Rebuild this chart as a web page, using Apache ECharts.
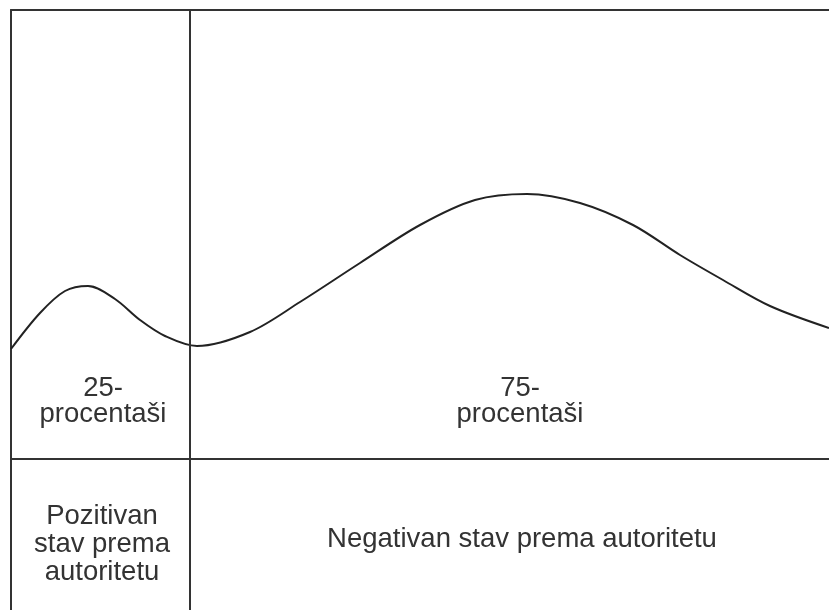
<!DOCTYPE html>
<html>
<head>
<meta charset="utf-8">
<script src="https://cdn.jsdelivr.net/npm/echarts@6/dist/echarts.min.js"></script>
<style>
  html, body { margin: 0; padding: 0; background: #ffffff; }
  #chart { width: 829px; height: 610px; }
</style>
</head>
<body>
<div id="chart"></div>
<script>
// Curve samples: horizontal position (0..818) and height above the bottom edge (0..600)
const curveX = [0, 29, 54, 77, 104, 129, 154, 186, 239, 289, 349, 409, 464, 516, 569, 622, 669, 712, 759, 818];
const curveY = [261, 297, 319, 324, 311, 290, 274, 264, 278, 308, 347, 385, 410, 416, 407, 385, 355, 330, 304, 282];

// Dividers
const dividerX = [179];
const dividerY = [151];

// Cell labels
const groupLabels = ['25-\nprocentaši', '75-\nprocentaši'];
const attitudeLabels = ['Pozitivan\nstav prema\nautoritetu', 'Negativan stav prema autoritetu'];

const chart = echarts.init(document.getElementById('chart'), null, { renderer: 'canvas' });

const lineColor = '#333333';
const textColor = '#333333';
const font = '27.5px "Liberation Sans", Arial, sans-serif';

const option = {
  animation: false,
  backgroundColor: '#ffffff',
  grid: { left: 11, top: 10, right: 0, bottom: 0, containLabel: false },
  xAxis: {
    type: 'value', min: 0, max: 818, position: 'top',
    axisLine: { show: true, onZero: false, lineStyle: { color: lineColor, width: 2 } },
    axisTick: { show: false }, axisLabel: { show: false }, splitLine: { show: false }
  },
  yAxis: {
    type: 'value', min: 0, max: 600,
    axisLine: { show: true, onZero: false, lineStyle: { color: lineColor, width: 2 } },
    axisTick: { show: false }, axisLabel: { show: false }, splitLine: { show: false }
  },
  series: [
    {
      type: 'line',
      data: curveX.map((x, i) => [x, curveY[i]]),
      smooth: 0.33,
      showSymbol: false,
      symbol: 'none',
      lineStyle: { color: '#222222', width: 2 },
      markLine: {
        silent: true,
        symbol: ['none', 'none'],
        label: { show: false },
        lineStyle: { color: lineColor, width: 2, type: 'solid' },
        data: dividerX.map(v => ({ xAxis: v })).concat(dividerY.map(v => ({ yAxis: v })))
      }
    }
  ],
  graphic: [
    { type: 'text', x: 103, y: 401, style: { text: groupLabels[0], font: font, fill: textColor, align: 'center', verticalAlign: 'middle', lineHeight: 26 } },
    { type: 'text', x: 520, y: 401, style: { text: groupLabels[1], font: font, fill: textColor, align: 'center', verticalAlign: 'middle', lineHeight: 26 } },
    { type: 'text', x: 102, y: 544, style: { text: attitudeLabels[0], font: font, fill: textColor, align: 'center', verticalAlign: 'middle', lineHeight: 28 } },
    { type: 'text', x: 522, y: 539, style: { text: attitudeLabels[1], font: font, fill: textColor, align: 'center', verticalAlign: 'middle', lineHeight: 28 } }
  ]
};
chart.setOption(option);
</script>
</body>
</html>
